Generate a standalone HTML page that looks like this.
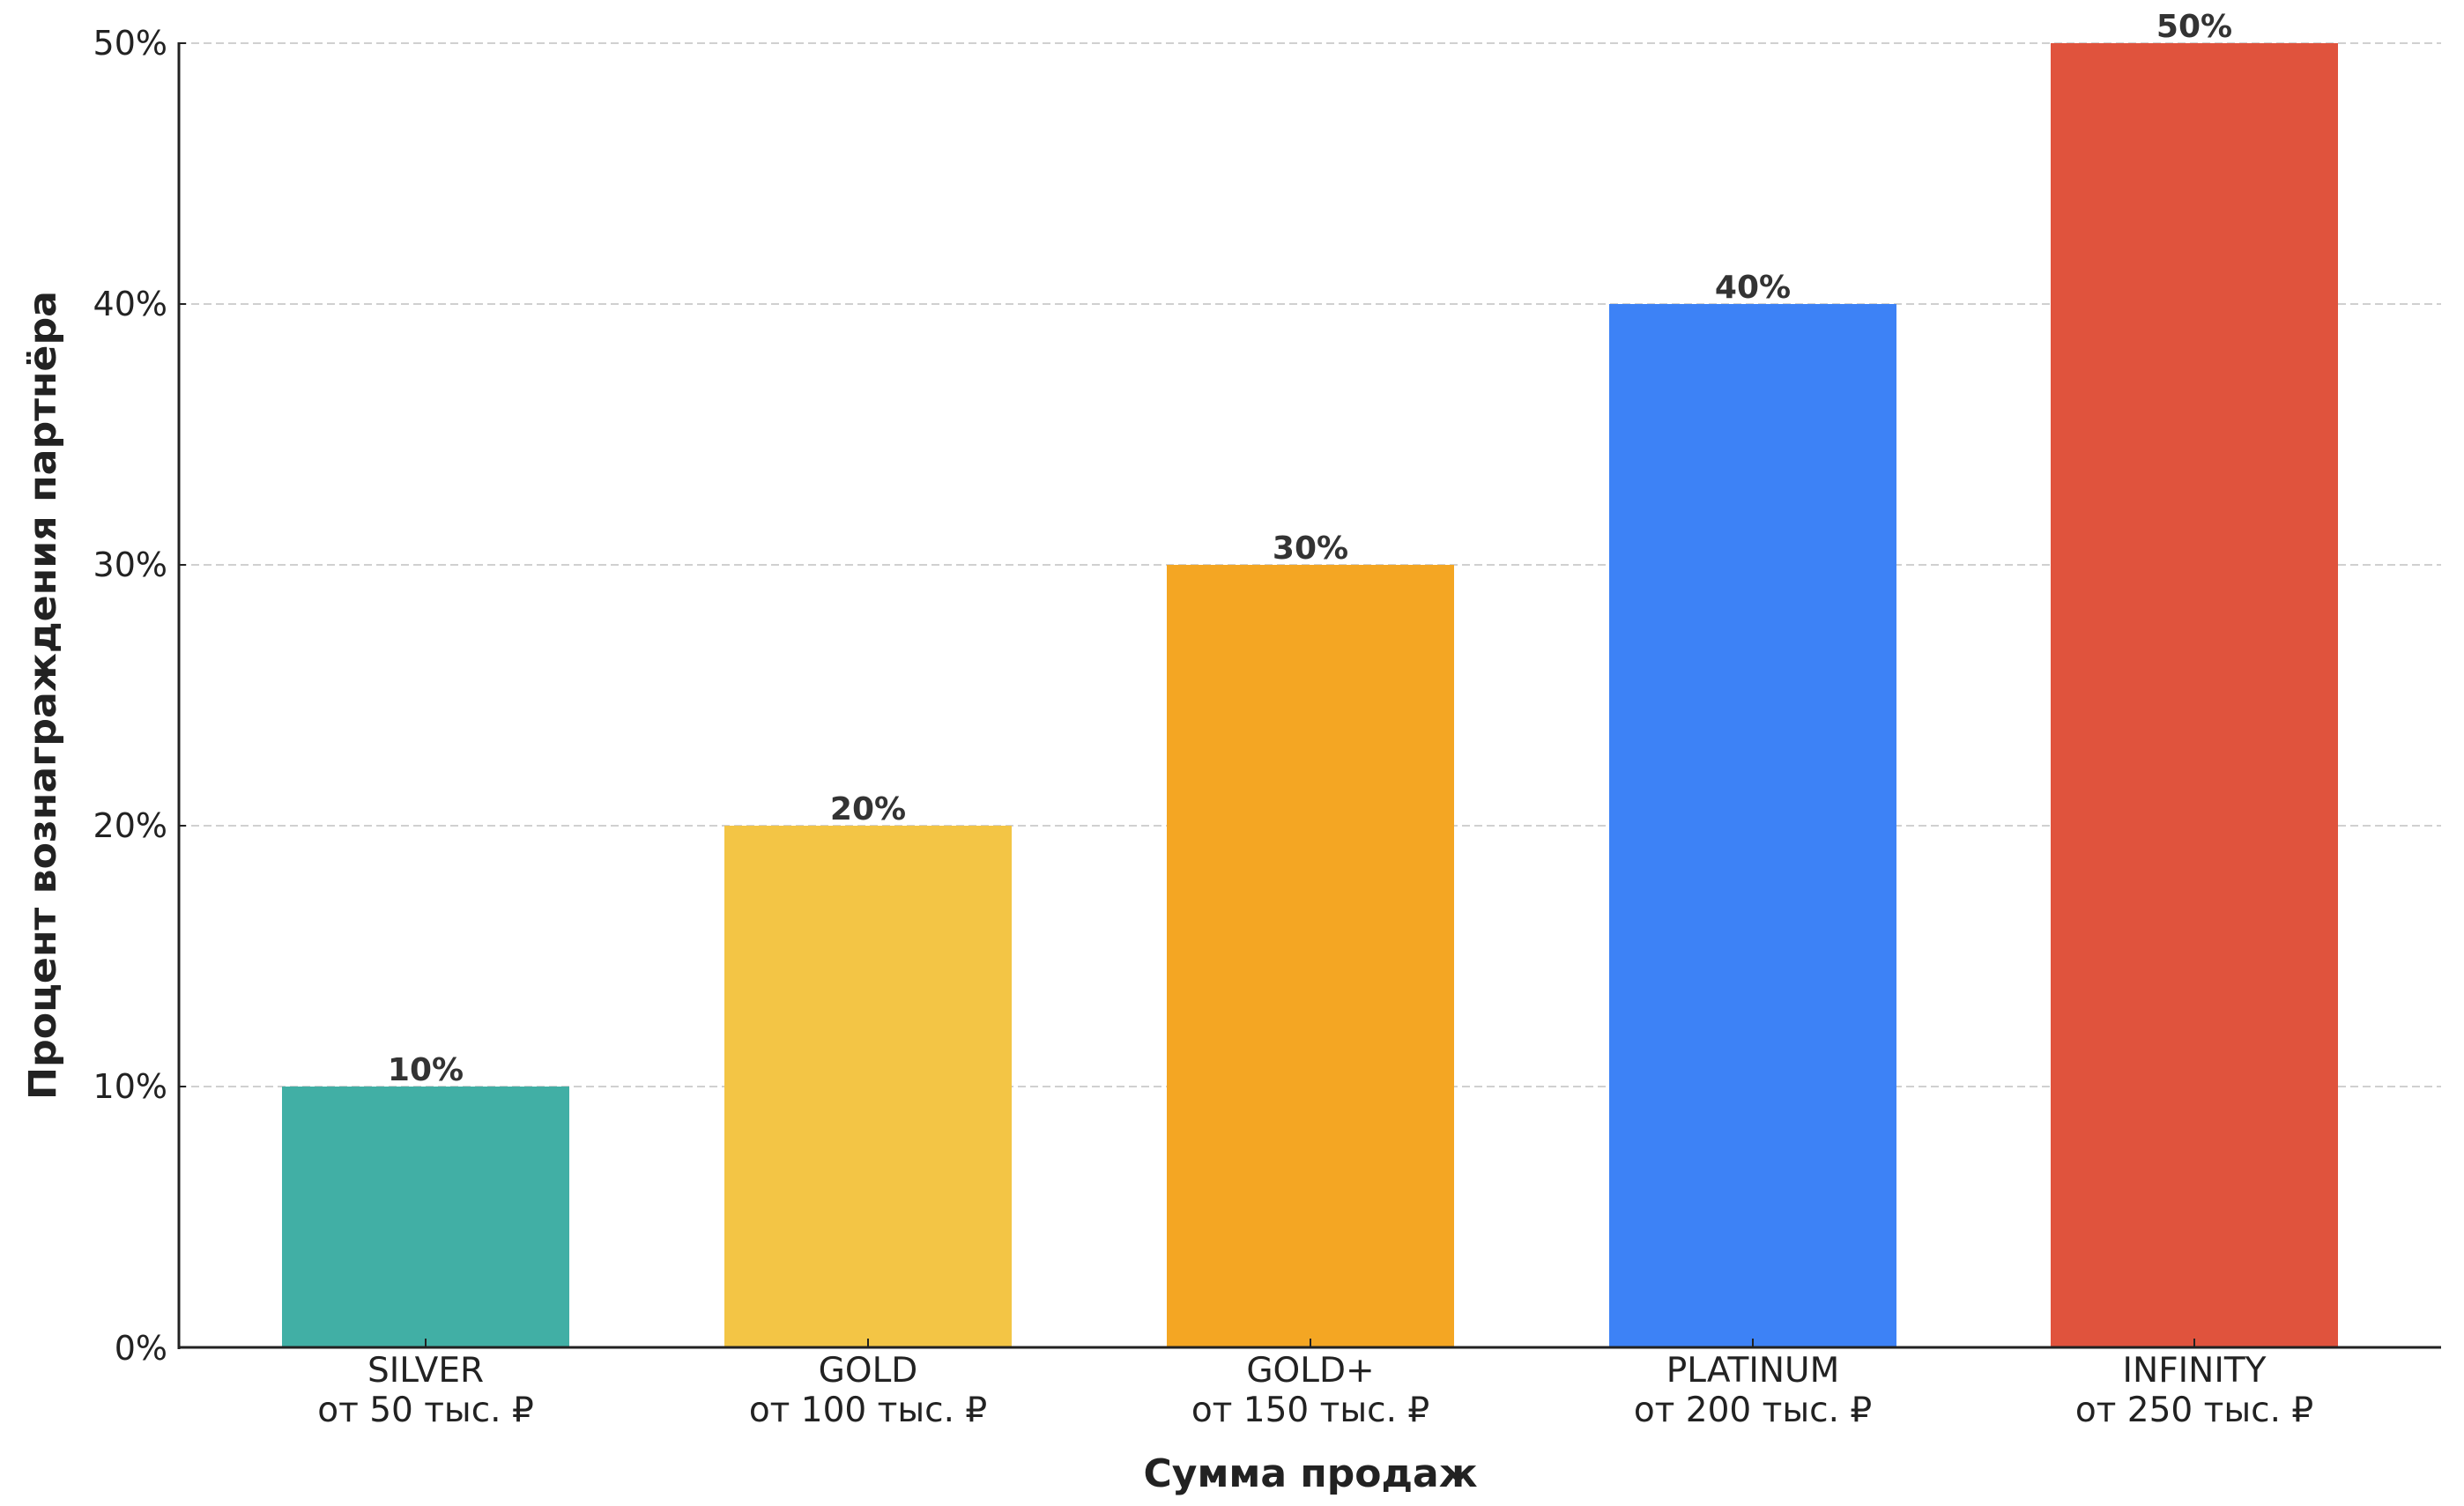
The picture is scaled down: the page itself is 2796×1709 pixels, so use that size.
<!DOCTYPE html>
<html><head><meta charset="utf-8"><style>html,body{margin:0;padding:0;background:#fff}svg{display:block}</style></head>
<body>
<svg width="2796" height="1709" viewBox="0 0 2796 1709" xmlns="http://www.w3.org/2000/svg" font-family="'DejaVu Sans','Liberation Sans',sans-serif">
<g stroke="#d0d0d0" stroke-width="2" stroke-dasharray="9,5">
<line x1="203" y1="49" x2="2770" y2="49"/>
<line x1="203" y1="345" x2="2770" y2="345"/>
<line x1="203" y1="641" x2="2770" y2="641"/>
<line x1="203" y1="937" x2="2770" y2="937"/>
<line x1="203" y1="1233" x2="2770" y2="1233"/>
</g>
<rect x="320" y="1233" width="326" height="296" fill="#41AFA5"/>
<rect x="822" y="937" width="326" height="592" fill="#F3C545"/>
<rect x="1324" y="641" width="326" height="888" fill="#F4A623"/>
<rect x="1826" y="345" width="326" height="1184" fill="#3D82F6"/>
<rect x="2327" y="49" width="326" height="1480" fill="#E0533D"/>
<g stroke="#222" stroke-width="2">
<line x1="483" y1="1529" x2="483" y2="1519"/><line x1="985" y1="1529" x2="985" y2="1519"/><line x1="1487" y1="1529" x2="1487" y2="1519"/><line x1="1989" y1="1529" x2="1989" y2="1519"/><line x1="2490" y1="1529" x2="2490" y2="1519"/>
<line x1="203" y1="49" x2="211" y2="49"/><line x1="203" y1="345" x2="211" y2="345"/><line x1="203" y1="641" x2="211" y2="641"/><line x1="203" y1="937" x2="211" y2="937"/><line x1="203" y1="1233" x2="211" y2="1233"/>
</g>
<line x1="203" y1="48" x2="203" y2="1531" stroke="#222" stroke-width="3"/>
<line x1="202" y1="1529" x2="2770" y2="1529" stroke="#222" stroke-width="3"/>
<g font-size="38" fill="#222" text-anchor="end">
<text x="190" y="62">50%</text><text x="190" y="358">40%</text><text x="190" y="654">30%</text><text x="190" y="950">20%</text><text x="190" y="1246">10%</text><text x="190" y="1543">0%</text>
</g>
<g font-size="36" fill="#333" font-weight="bold" text-anchor="middle">
<text x="483" y="1226">10%</text><text x="985" y="930">20%</text><text x="1487" y="634">30%</text><text x="1989" y="338">40%</text><text x="2490" y="42">50%</text>
</g>
<g font-size="39" fill="#222" text-anchor="middle">
<text x="483" y="1568">SILVER</text><text x="483" y="1613">от 50 тыс. ₽</text>
<text x="985" y="1568">GOLD</text><text x="985" y="1613">от 100 тыс. ₽</text>
<text x="1487" y="1568">GOLD+</text><text x="1487" y="1613">от 150 тыс. ₽</text>
<text x="1989" y="1568">PLATINUM</text><text x="1989" y="1613">от 200 тыс. ₽</text>
<text x="2490" y="1568">INFINITY</text><text x="2490" y="1613">от 250 тыс. ₽</text>
</g>
<text x="1487" y="1687" font-size="44" font-weight="bold" fill="#222" text-anchor="middle">Сумма продаж</text>
<text transform="translate(63,789) rotate(-90)" font-size="43" font-weight="bold" fill="#222" text-anchor="middle" textLength="918" lengthAdjust="spacingAndGlyphs">Процент вознаграждения партнёра</text>
</svg>
</body></html>
